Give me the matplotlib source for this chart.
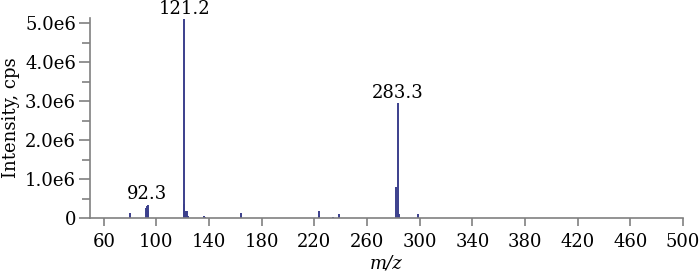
import numpy as np
import matplotlib
matplotlib.use("Agg")
import matplotlib.pyplot as plt
from matplotlib.ticker import MultipleLocator, FuncFormatter

# peak list (m/z, intensity in cps)
mz = [79.8, 92.1, 92.6, 93.3, 93.7, 120.9, 121.2, 121.9, 122.6, 123.3, 124.0,
      136.0, 136.6, 164.0, 223.3, 223.8, 234.0, 238.5, 282.3, 283.3, 284.3, 298.6]
intensity = [0.13e6, 0.25e6, 0.30e6, 0.33e6, 0.18e6, 0.37e6, 5.1e6, 0.12e6, 0.17e6, 0.18e6, 0.06e6,
             0.04e6, 0.03e6, 0.12e6, 0.05e6, 0.19e6, 0.03e6, 0.10e6, 0.80e6, 2.95e6, 0.10e6, 0.09e6]
labels = ["121.2", "283.3", "92.3"]
label_mz = [121.2, 283.3, 93.0]
label_y = [5.1e6, 2.95e6, 0.34e6]

plt.rcParams['font.family'] = ['DejaVu Serif']

fig = plt.figure(figsize=(7, 2.72), dpi=100)
ax = fig.add_axes([90/700, 1 - 218/272, (683-90)/700, (218-18)/272])

ax.vlines(mz, 0, intensity, color='#3b3f8c', lw=1.4)

for t, x, y in zip(labels, label_mz, label_y):
    ax.annotate(t, (x, y), xytext=(0, 1), textcoords='offset points',
                ha='center', va='bottom', fontsize=13, annotation_clip=False)

ax.set_xlim(49.5, 500)
ax.set_ylim(0, 5.13e6)
ax.set_xticks(np.arange(60, 501, 40))
ax.yaxis.set_major_locator(MultipleLocator(1e6))
ax.yaxis.set_minor_locator(MultipleLocator(0.5e6))
ax.yaxis.set_major_formatter(FuncFormatter(lambda v, p: "0" if v == 0 else "%.1fe6" % (v / 1e6)))

for s in ['top', 'right']:
    ax.spines[s].set_visible(False)
for s in ['left', 'bottom']:
    ax.spines[s].set_color('#808080')
    ax.spines[s].set_linewidth(1.2)
ax.tick_params(which='both', color='#808080', width=1.2, labelsize=13)
ax.tick_params(axis='x', length=6, pad=5)
ax.tick_params(axis='y', which='major', length=8, pad=2)
ax.tick_params(axis='y', which='minor', length=6)

ax.set_xlabel("m/z", style='italic', fontsize=13, labelpad=2)
ax.set_ylabel("Intensity, cps", fontsize=13, labelpad=4)

fig.savefig("out.png", dpi=100)
